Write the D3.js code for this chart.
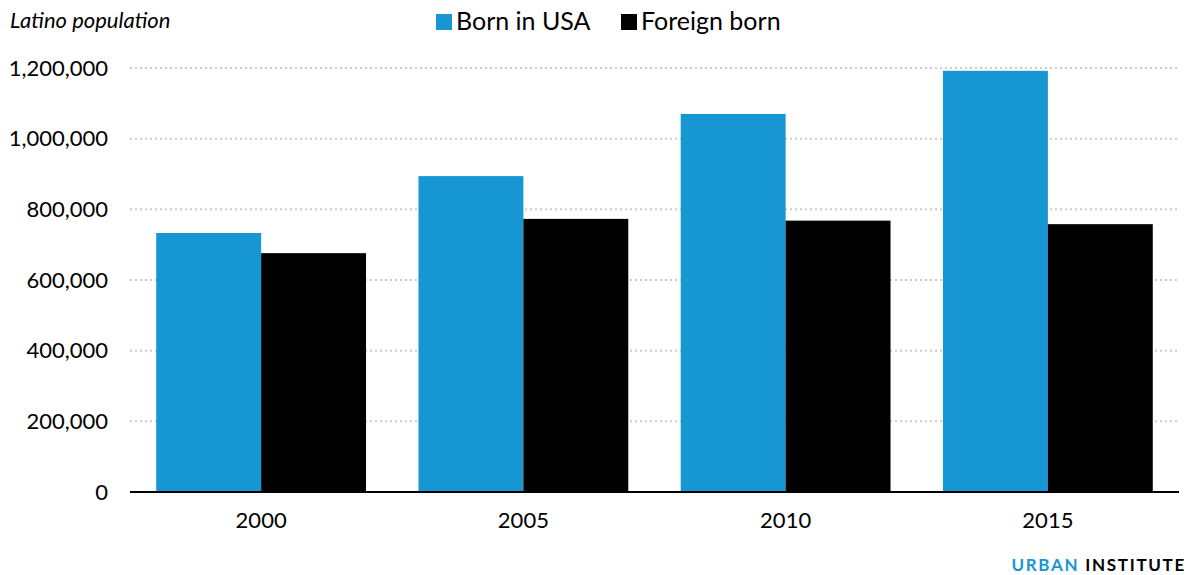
<!DOCTYPE html>
<html>
<head>
<meta charset="utf-8">
<script src="https://cdn.jsdelivr.net/npm/d3@7"></script>
<style>
  body { margin: 0; background: #fff; }
  text { font-family: Lato, "Open Sans", sans-serif; fill: #000; }
</style>
</head>
<body>
<div id="chart"></div>
<script>
// data
var years = ["2000", "2005", "2010", "2015"];
var seriesNames = ["Born in USA", "Foreign born"];
var bornInUSA = [733000, 894000, 1070000, 1192000];
var foreignBorn = [676000, 773000, 768000, 758000];
var yTicks = [0, 200000, 400000, 600000, 800000, 1000000, 1200000];

var colors = ["#1696d2", "#000000"];

var svgWidth = 1196;
var svgHeight = 575;

var margin = { top: 68, right: 17, bottom: 83, left: 130 };
var width = svgWidth - margin.left - margin.right;
var height = svgHeight - margin.top - margin.bottom;

var svg = d3.select("#chart")
  .append("svg")
  .attr("width", svgWidth)
  .attr("height", svgHeight)
  .style("display", "block");

var chartGroup = svg.append("g")
  .attr("transform", `translate(${margin.left}, ${margin.top})`);

var rows = years.map(function(y, i) {
  return { year: y, values: [bornInUSA[i], foreignBorn[i]] };
});

var x0 = d3.scaleBand()
  .domain(years)
  .range([0, width])
  .paddingInner(0.2)
  .paddingOuter(0.1);

var x1 = d3.scaleBand()
  .domain([0, 1])
  .range([0, x0.bandwidth()]);

var y = d3.scaleLinear()
  .domain([0, 1200000])
  .range([height, 0]);

// gridlines + y labels
var leftAxis = d3.axisLeft(y)
  .tickValues(yTicks)
  .tickSize(0)
  .tickPadding(22)
  .tickFormat(d3.format(","));

var yAxisG = chartGroup.append("g").call(leftAxis);
yAxisG.select(".domain").remove();
yAxisG.selectAll("text")
  .attr("font-size", "22px")
  .attr("font-family", "Lato, sans-serif")
  .attr("fill", "#000");

chartGroup.append("g")
  .selectAll("line")
  .data(yTicks.filter(d => d > 0))
  .enter()
  .append("line")
  .attr("x1", 0)
  .attr("x2", width)
  .attr("y1", d => y(d))
  .attr("y2", d => y(d))
  .attr("stroke", "#cccccc")
  .attr("stroke-width", 2)
  .attr("stroke-dasharray", "2,3");

// bars
var groups = chartGroup.selectAll(".grp")
  .data(rows)
  .enter()
  .append("g")
  .attr("transform", d => `translate(${x0(d.year)}, 0)`);

groups.selectAll("rect")
  .data(d => d.values)
  .enter()
  .append("rect")
  .attr("x", (d, i) => x1(i))
  .attr("y", d => y(d))
  .attr("width", x1.bandwidth())
  .attr("height", d => height - y(d))
  .attr("fill", (d, i) => colors[i]);

// x axis
var bottomAxis = d3.axisBottom(x0).tickSize(0).tickPadding(20);
var xAxisG = chartGroup.append("g")
  .attr("transform", `translate(0, ${height})`)
  .call(bottomAxis);
xAxisG.select(".domain").remove();
xAxisG.selectAll("text")
  .attr("font-size", "22px")
  .attr("font-family", "Lato, sans-serif")
  .attr("fill", "#000");

chartGroup.append("line")
  .attr("x1", 0)
  .attr("x2", width)
  .attr("y1", height)
  .attr("y2", height)
  .attr("stroke", "#000")
  .attr("stroke-width", 2);

// title
svg.append("text")
  .attr("x", 10)
  .attr("y", 28)
  .attr("font-size", "22px")
  .attr("font-style", "italic")
  .text("Latino population");

// legend
var legendX = [436, 621];
var legend = svg.selectAll(".legend")
  .data(seriesNames)
  .enter()
  .append("g")
  .attr("transform", (d, i) => `translate(${legendX[i]}, 0)`);

legend.append("rect")
  .attr("x", 0)
  .attr("y", 14)
  .attr("width", 16)
  .attr("height", 16)
  .attr("fill", (d, i) => colors[i]);

legend.append("text")
  .attr("x", 20)
  .attr("y", 30)
  .attr("font-size", "25px")
  .text(d => d);

// branding
var brand = svg.append("text")
  .attr("x", 1186)
  .attr("y", 571)
  .attr("text-anchor", "end")
  .attr("font-size", "17px")
  .attr("font-weight", "bold")
  .attr("letter-spacing", "1.7px");
brand.append("tspan").attr("fill", "#1696d2").text("URBAN ");
brand.append("tspan").attr("fill", "#000").text("INSTITUTE");
</script>
</body>
</html>
